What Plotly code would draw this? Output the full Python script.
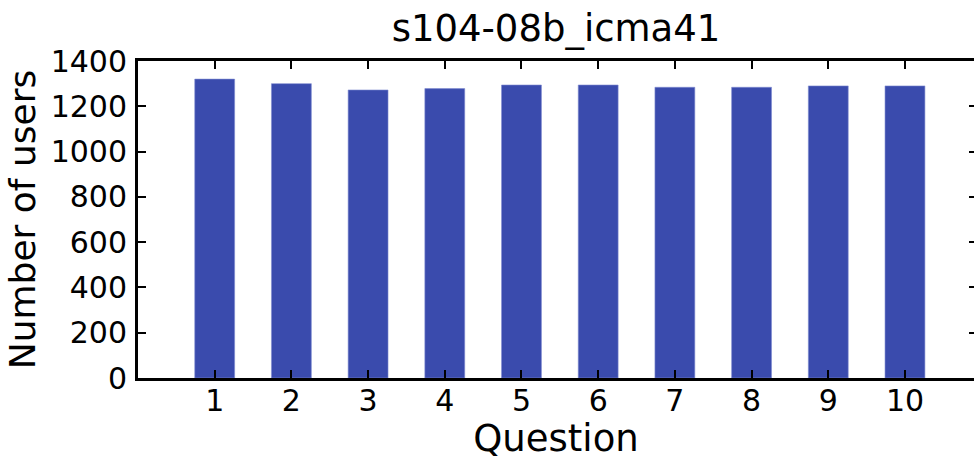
import plotly.graph_objects as go

# Users who answered each question
questions = [1, 2, 3, 4, 5, 6, 7, 8, 9, 10]
users = [1320, 1300, 1272, 1278, 1294, 1294, 1284, 1284, 1290, 1290]
y_ticks = [0, 200, 400, 600, 800, 1000, 1200, 1400]

font = "DejaVu Sans"

fig = go.Figure()
fig.add_trace(go.Bar(
    x=questions, y=users,
    width=0.52,
    marker=dict(color="#3a4bad", line=dict(color="#7f8cd0", width=0.6)),
    showlegend=False,
))
# invisible helper trace so the right-hand tick axis is drawn
fig.add_trace(go.Scatter(
    x=questions, y=users, yaxis="y2",
    mode="markers", marker=dict(opacity=0),
    hoverinfo="skip", showlegend=False,
))

fig.update_layout(
    width=974, height=460,
    margin=dict(l=138, r=0, t=61, b=82, autoexpand=False),
    paper_bgcolor="white", plot_bgcolor="white",
    font=dict(family=font, color="black"),
    title=dict(
        text="s104-08b_icma41",
        font=dict(size=37, family=font, color="black"),
        x=0.5, xref="paper", xanchor="center",
        y=0.94, yref="container", yanchor="middle",
    ),
    xaxis=dict(
        range=[0.0, 10.9],
        tickvals=questions,
        ticktext=[str(q) for q in questions],
        showgrid=False, zeroline=False,
        showline=True, linecolor="black", linewidth=3,
        mirror="ticks",
        ticks="inside", ticklen=8, tickwidth=1.5, tickcolor="black",
        tickfont=dict(size=30),
        ticklabelstandoff=-6,
        automargin=False,
        title=dict(text="Question", font=dict(size=37), standoff=24),
    ),
    yaxis=dict(
        range=[0, 1400],
        tickvals=y_ticks,
        showgrid=False, zeroline=False,
        showline=True, linecolor="black", linewidth=3,
        ticks="inside", ticklen=8, tickwidth=1.5, tickcolor="black",
        tickfont=dict(size=30),
        ticklabelstandoff=2,
        automargin=False,
        title=dict(text="Number of users", font=dict(size=36), standoff=5),
    ),
    yaxis2=dict(
        range=[0, 1400],
        tickvals=y_ticks,
        overlaying="y", side="right", anchor="x",
        showgrid=False, zeroline=False, showline=False,
        showticklabels=False, automargin=False,
        ticks="inside", ticklen=5, tickwidth=1.5, tickcolor="black",
    ),
)

# drop the browser's default page margin so the figure sits at the corner
fig.write_html(
    "out.html",
    config={"displayModeBar": False},
    post_script="document.body.style.margin='0';",
)
